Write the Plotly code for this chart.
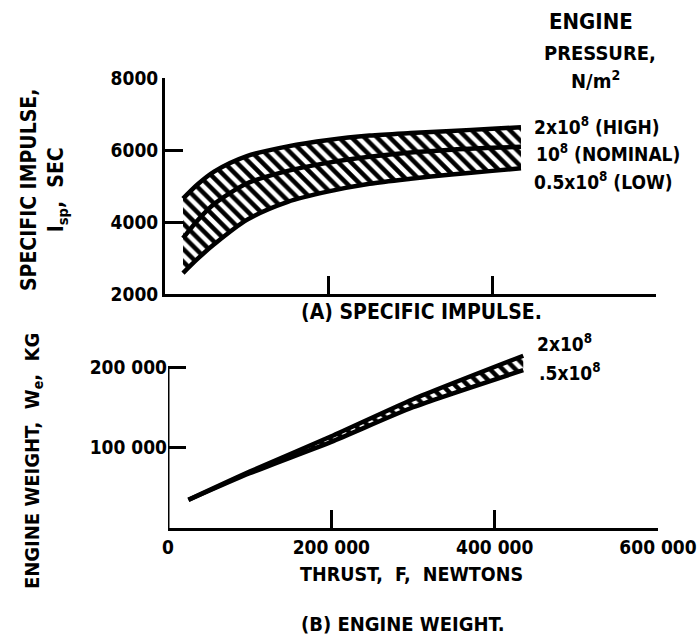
import plotly.graph_objects as go

# ---------------- data ----------------
thrust_isp = [22000, 40000, 60000, 100000, 150000, 200000, 250000, 300000, 350000, 400000, 435000]
isp_high = [4650, 5050, 5400, 5830, 6100, 6280, 6400, 6470, 6530, 6590, 6630]
isp_nominal = [3550, 4050, 4500, 5070, 5420, 5650, 5810, 5930, 6010, 6060, 6090]
isp_low = [2580, 2980, 3380, 4060, 4560, 4850, 5060, 5200, 5320, 5420, 5490]

thrust_w = [25000, 100000, 200000, 300000, 435000]
weight_high = [35000, 70000, 114000, 160000, 214000]
weight_low = [35000, 68000, 107000, 150000, 196000]

isp_ticks = [2000, 4000, 6000, 8000]
isp_ticklabels = ["2000", "4000", "6000", "8000"]
w_ticks = [100000, 200000]
w_ticklabels = ["100 000", "200 000"]
w_axis_top = 200000
thrust_ticks = [0, 200000, 400000, 600000]
thrust_ticklabels = ["0", "200 000", "400 000", "600 000"]

W, H = 700, 636
FONT = "Liberation Sans Narrow, DejaVu Sans Condensed, Arial Narrow, sans-serif"


def px(x):
    return x / W


def py(y):
    return 1 - y / H


pattern = dict(shape="\\", size=9, solidity=0.5, fgcolor="black", bgcolor="white", fillmode="replace")
LW = 4.5

fig = go.Figure()
# top panel
for i, ys in enumerate([isp_high, isp_nominal, isp_low]):
    kw = {} if i == 0 else dict(fill="tonexty", fillcolor="white", fillpattern=pattern)
    fig.add_trace(go.Scatter(x=thrust_isp, y=ys, mode="lines",
                             line=dict(color="black", width=LW, shape="spline", smoothing=0.8),
                             xaxis="x", yaxis="y", showlegend=False, **kw))
# bottom panel
fig.add_trace(go.Scatter(x=thrust_w, y=weight_high, mode="lines", line=dict(color="black", width=LW, shape="spline", smoothing=0.6),
                         xaxis="x2", yaxis="y2", showlegend=False))
fig.add_trace(go.Scatter(x=thrust_w, y=weight_low, mode="lines", line=dict(color="black", width=LW, shape="spline", smoothing=0.6),
                         fill="tonexty", fillcolor="white", fillpattern=pattern, xaxis="x2", yaxis="y2", showlegend=False))

TF = dict(family=FONT, size=19, color="black", weight="bold")
axcommon = dict(linecolor="black", linewidth=3, ticks="inside", ticklen=18, tickwidth=3,
                tickcolor="black", showgrid=False, zeroline=False, automargin=False, tickfont=TF)

# bottom y axis: range extended above 200 000 so the band's end is not clipped;
# the visible axis line stops at 200 000 (drawn as a shape below)
y2_top_px = 340
y2_range_top = 200000 * (528 - y2_top_px) / (528 - 367)

fig.update_layout(
    width=W, height=H, margin=dict(l=0, r=0, t=0, b=0, autoexpand=False),
    paper_bgcolor="white", plot_bgcolor="white",
    font=dict(family=FONT, color="black"),
    xaxis=dict(domain=[px(165), px(656)], range=[0, 600000], tickvals=thrust_ticks[1:], showticklabels=False,
               anchor="y", showline=True, **axcommon),
    yaxis=dict(domain=[py(294), py(78)], range=[2000, 8000], tickvals=isp_ticks, ticktext=isp_ticklabels,
               anchor="x", showline=True, **axcommon),
    xaxis2=dict(domain=[px(168), px(658)], range=[0, 600000], tickvals=thrust_ticks, ticktext=thrust_ticklabels,
                anchor="y2", showline=True, **axcommon),
    yaxis2=dict(domain=[py(528), py(y2_top_px)], range=[0, y2_range_top], tickvals=w_ticks, ticktext=w_ticklabels,
                anchor="x2", showline=False, **axcommon),
)
fig.add_shape(type="line", xref="x2", yref="y2", x0=0, x1=0, y0=0, y1=w_axis_top,
              line=dict(color="black", width=3))


def ann(text, x, y, size=22, angle=0, align="center", xanchor="center"):
    fig.add_annotation(text=text, x=px(x), y=py(y), xref="paper", yref="paper", showarrow=False,
                       font=dict(family=FONT, size=size, color="black", weight="bold"), textangle=angle,
                       align=align, xanchor=xanchor, yanchor="middle")


ann("SPECIFIC IMPULSE,<br>I<sub>sp</sub>,  SEC", 44, 190, size=21, angle=-90)
ann("ENGINE WEIGHT,  W<sub>e</sub>,  KG", 33, 461, size=20, angle=-90)
ann("(A) SPECIFIC IMPULSE.", 421, 312, size=21)
ann("THRUST,  F,  NEWTONS", 411, 574, size=19.5)
ann("(B) ENGINE WEIGHT.", 403, 624, size=20)

ann("ENGINE", 591, 22, size=22)
ann("PRESSURE,", 600, 53, size=20)
ann("N/m<sup>2</sup>", 595, 80, size=20)
ann("2x10<sup>8</sup> (HIGH)", 532, 126, size=19, xanchor="left")
ann("10<sup>8</sup> (NOMINAL)", 534, 153, size=19, xanchor="left")
ann("0.5x10<sup>8</sup> (LOW)", 532, 181, size=19, xanchor="left")
ann("2x10<sup>8</sup>", 535, 343, size=19, xanchor="left")
ann(".5x10<sup>8</sup>", 537, 372, size=19, xanchor="left")

fig.write_html("out.html")
